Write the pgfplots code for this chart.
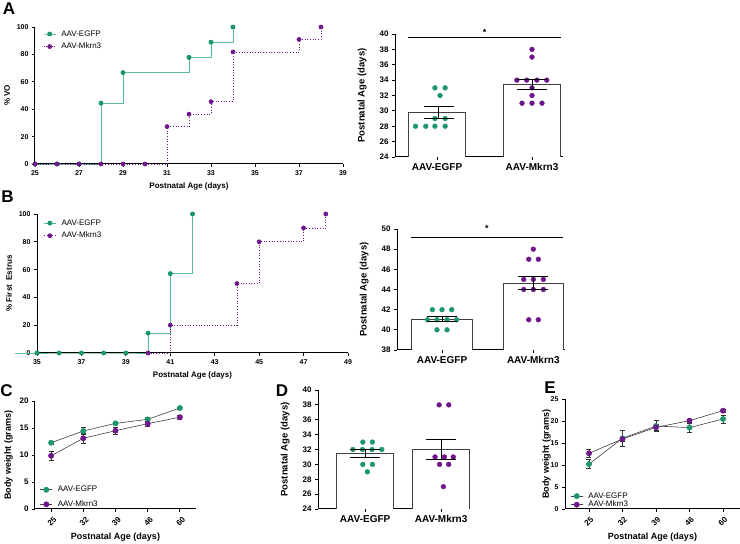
\documentclass[border=0pt]{standalone}
\usepackage{fontspec}
\setmainfont{Liberation Sans}
\usepackage{pgfplots}
\pgfplotsset{compat=1.18}
\definecolor{egfp}{RGB}{27,150,110}
\definecolor{egfpline}{RGB}{90,190,155}
\definecolor{mkrn}{RGB}{112,22,140}
\newcommand{\fs}[1]{\fontsize{#1}{#1}\selectfont}
\pgfplotsset{
  legend image code/.code={\draw[mark repeat=2,mark phase=2,#1] plot coordinates {(0pt,0pt)(6pt,0pt)(12pt,0pt)};},
  base/.style={scale only axis, anchor=south west,
    axis x line*=bottom, axis y line*=left,
    axis line style={-, line width=1pt, black},
    tick style={black, line width=0.8pt},
    tick align=outside, major tick length=3pt,
    /pgf/number format/assume math mode=true,
    tick label style={font=\bfseries\fs{7}},
    label style={font=\bfseries\fs{8}},
    legend cell align=left},
  leg/.style={legend style={draw=none, fill=none, inner sep=0pt, row sep=3pt,
    font=\fs{8}, nodes={inner sep=1.2pt},
    /tikz/every odd column/.append style={column sep=4pt}}},
  barax/.style={base, xtick={1,2}, xticklabels={AAV-EGFP,AAV-Mkrn3},
    xticklabel style={font=\bfseries\fs{10}},
    yticklabel style={font=\bfseries\fs{8}},
    ylabel={Postnatal Age (days)}, ylabel style={font=\bfseries\fs{9.5}},
    ylabel shift=6pt,
    clip mode=individual},
  bar/.style={ybar, bar width=#1, fill=white, draw=black!75, line width=0.9pt},
  dots/.style={only marks, mark=*, mark size=2.4pt, color=#1},
  ebar/.style={draw=none, mark=none, forget plot, error bars/.cd, y dir=both, y explicit,
    error bar style={draw=black, line width=0.9pt},
    error mark options={rotate=90, draw=black, line width=0.9pt, mark size=15pt}},
  stepE/.style={const plot, egfpline, line width=0.9pt, mark=*, mark size=2pt, mark options={solid, fill=egfp, draw=egfp}},
  stepM/.style={const plot, mkrn, dotted, line width=0.7pt, mark=*, mark size=2pt, mark options={solid, fill=mkrn, draw=mkrn}},
  lineE/.style={black!75, line width=0.6pt, mark=*, mark size=2.6pt, mark options={fill=egfp, draw=egfp},
    error bars/.cd, y dir=both, y explicit, error bar style={black!80, line width=0.6pt},
    error mark options={rotate=90, black!80, line width=0.6pt, mark size=2.5pt}},
  lineM/.style={black!75, line width=0.6pt, mark=*, mark size=2.6pt, mark options={fill=mkrn, draw=mkrn},
    error bars/.cd, y dir=both, y explicit, error bar style={black!80, line width=0.6pt},
    error mark options={rotate=90, black!80, line width=0.6pt, mark size=2.5pt}},
}
\begin{document}
\begin{tikzpicture}
\useasboundingbox (0pt,0pt) rectangle (740pt,544pt);

% ---------- Panel A: step ----------
\begin{axis}[base, leg, clip=false, at={(35pt,380pt)}, width=308pt, height=137pt,
  xmin=25, xmax=39, ymin=0, ymax=100,
  xtick={25,27,...,39}, ytick={0,20,...,100},
  xlabel={Postnatal Age (days)}, ylabel={\% VO},
  legend style={at={(0.026,0.985)}, anchor=north west}]
\addplot[stepE] coordinates {(25,0)(26,0)(27,0)(28,44.4)(29,66.7)(32,77.8)(33,88.9)(34,100)};
\addplot[stepM] coordinates {(25,0)(26,0)(27,0)(28,0)(29,0)(30,0)(31,27.3)(32,36.4)(33,45.5)(34,81.8)(37,90.9)(38,100)};
\legend{AAV-EGFP,AAV-Mkrn3}
\end{axis}

% ---------- Panel A: bars ----------
\begin{axis}[barax, at={(395pt,387pt)}, width=168pt, height=123pt,
  xmin=0.558, xmax=2.326, ymin=24, ymax=40, ytick={24,26,...,40}]
\addplot[bar=0.6] coordinates {(1,29.76)(2,33.45)};
\addplot[dots=egfp] coordinates {(0.774,28)(0.882,28)(0.978,28)(1.086,28)(0.978,29)(1.086,29)(1.032,32)(0.978,33)(1.086,33)};
\addplot[dots=mkrn] coordinates {(2,38)(2,37)(1.84,34)(1.944,34)(2.05,34)(2.155,34)(2,33)(2,32)(1.895,31)(2,31)(2.105,31)};
\addplot[ebar] coordinates {(1.02,29.76) +- (0,0.76) (2,33.45) +- (0,0.67)};
\addplot[black, line width=0.8pt] coordinates {(0.70,39.6)(2.31,39.6)};
\node[font=\bfseries\fs{9}] at (axis cs:1.5,40.25) {*};
\end{axis}

% ---------- Panel B: step ----------
\begin{axis}[base, leg, clip=false, at={(37pt,191pt)}, width=311pt, height=139pt,
  xmin=35, xmax=49, ymin=0, ymax=100,
  xtick={35,37,...,49}, ytick={0,20,...,100},
  xlabel={Postnatal Age (days)}, ylabel={\% First\ \ Estrus},
  legend style={at={(0.02,0.97)}, anchor=north west}]
\addplot[stepE] coordinates {(35,0)(36,0)(37,0)(38,0)(39,0)(40,14.3)(41,57.1)(42,100)};
\addplot[stepM] coordinates {(40,0)(41,20)(44,50)(45,80)(47,90)(48,100)};
\addplot[egfpline, line width=0.9pt, forget plot] coordinates {(34.0,0)(35,0)};
\legend{AAV-EGFP,AAV-Mkrn3}
\end{axis}

% ---------- Panel B: bars ----------
\begin{axis}[barax, at={(397pt,194pt)}, width=168pt, height=121pt,
  xmin=0.507, xmax=2.347, ymin=38, ymax=50, ytick={38,40,...,50}]
\addplot[bar=0.66] coordinates {(1,41.04)(2,44.6)};
\addplot[dots=egfp] coordinates {(0.894,42)(1,42)(1.106,42)(0.84,41)(0.945,41)(1.055,41)(1.16,41)(0.945,40)(1.055,40)};
\addplot[dots=mkrn] coordinates {(2,48)(1.95,47)(2.055,47)(1.895,45)(2,45)(2.11,45)(1.895,44)(2,44)(2.11,44)(1.95,41)(2.055,41)};
\addplot[ebar] coordinates {(1,41.1) +- (0,0.24) (2,44.65) +- (0,0.68)};
\addplot[black, line width=0.8pt] coordinates {(0.66,49.2)(2.33,49.2)};
\node[font=\bfseries\fs{9}] at (axis cs:1.49,50.1) {*};
\end{axis}

% ---------- Panel C ----------
\begin{axis}[base, leg, clip=false, at={(35pt,35pt)}, width=161pt, height=108pt,
  xmin=-0.5, xmax=4.5, ymin=0, ymax=20, ytick={0,5,...,20},
  xtick={0,...,4}, xticklabels={25,32,39,46,60},
  tick label style={font=\bfseries\fs{8}},
  xticklabel style={xshift=2pt, yshift=-3pt, rotate=45, anchor=north east, inner sep=0.5pt},
  ylabel={Body weight (grams)}, ylabel style={font=\bfseries\fs{9}},
  xlabel={Postnatal Age (days)}, xlabel style={font=\bfseries\fs{9}, yshift=-2pt},
  legend style={at={(0.03,0.224)}, anchor=north west, row sep=5pt}]
\addplot[lineE] coordinates {(0,12.28) +- (0,0.25) (1,14.44) +- (0,0.6) (2,15.86) +- (0,0.25) (3,16.6) +- (0,0.4) (4,18.7) +- (0,0.2)};
\addplot[lineM] coordinates {(0,9.85) +- (0,0.9) (1,13.1) +- (0,0.9) (2,14.5) +- (0,0.65) (3,15.8) +- (0,0.4) (4,17.0) +- (0,0.3)};
\legend{AAV-EGFP,AAV-Mkrn3}
\end{axis}

% ---------- Panel D ----------
\begin{axis}[barax, at={(318pt,35pt)}, width=152pt, height=119pt,
  xmin=0.38, xmax=2.38, ymin=24, ymax=40, ytick={24,26,...,40}]
\addplot[bar=0.75] coordinates {(1,31.45)(2,32.0)};
\addplot[dots=egfp] coordinates {(0.97,33)(1.096,33)(0.84,32)(0.964,32)(1.092,32)(1.22,32)(0.97,30)(1.096,30)(1.03,29)};
\addplot[dots=mkrn] coordinates {(1.974,38)(2.10,38)(1.92,31)(2.043,31)(2.16,31)(1.98,30)(2.10,30)(2.03,27)};
\addplot[ebar] coordinates {(1,31.45) +- (0,0.49) (2,32.0) +- (0,1.4)};
\end{axis}

% ---------- Panel E ----------
\begin{axis}[base, leg, clip=false, at={(565pt,35pt)}, width=175pt, height=110pt,
  xmin=-0.716, xmax=4.507, ymin=0, ymax=25, ytick={0,5,...,25},
  xtick={0,...,4}, xticklabels={25,32,39,46,60},
  xticklabel style={xshift=1pt, yshift=-3pt, rotate=45, anchor=north east, inner sep=0.5pt, font=\bfseries\fs{8}},
  yticklabel style={font=\bfseries\fs{7}},
  ylabel={Body weight (grams)}, ylabel style={font=\bfseries\fs{9}},
  ylabel shift=-7pt,
  xlabel={Postnatal Age (days)}, xlabel style={font=\bfseries\fs{9}, yshift=-2pt},
  legend style={at={(0.03,0.162)}, anchor=north west, row sep=-1pt}]
\addplot[lineE] coordinates {(0,10.2) +- (0,1.05) (1,16.07) +- (0,1.8) (2,18.86) +- (0,1.3) (3,18.5) +- (0,1.05) (4,20.45) +- (0,0.95)};
\addplot[lineM] coordinates {(0,12.66) +- (0,0.9) (1,15.9) +- (0,0.5) (2,18.56) +- (0,0.6) (3,20.08) +- (0,0.3) (4,22.35) +- (0,0.3)};
\legend{AAV-EGFP,AAV-Mkrn3}
\end{axis}

\node[font=\bfseries\fs{17}] at (9pt,535pt) {A};
\node[font=\bfseries\fs{17}] at (7.5pt,347pt) {B};
\node[font=\bfseries\fs{17}] at (6.5pt,153pt) {C};
\node[font=\bfseries\fs{17}] at (282pt,153pt) {D};
\node[font=\bfseries\fs{17}] at (550pt,156pt) {E};
\end{tikzpicture}
\end{document}
